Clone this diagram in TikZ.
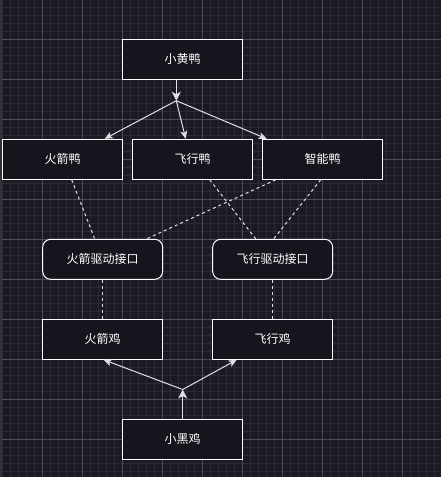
\documentclass[tikz,border=0pt]{standalone}
\usepackage{fontspec}
\setmainfont{Noto Sans CJK SC}
\usetikzlibrary{arrows.meta,calc,positioning}
\definecolor{BgCol}{RGB}{27,25,35}
\definecolor{BoxFill}{RGB}{24,20,29}
\definecolor{GridMinor}{RGB}{44,42,52}
\definecolor{GridMajor}{RGB}{78,77,86}
\definecolor{EdgeCol}{RGB}{225,225,228}
\tikzset{
  zgminor/.style={line width=1pt, draw=GridMinor},
  zgmajor/.style={line width=1pt, draw=GridMajor},
  zgbox/.style={draw=white, fill=BoxFill, line width=1pt, minimum width=120pt,
    minimum height=40pt, inner sep=0pt, text=white, font=\fontsize{12}{12}\selectfont},
  zgiface/.style={zgbox, rounded corners=8pt},
  zgarrow/.style={-{Stealth[length=8pt,width=7pt,inset=2pt]}, line width=1pt, draw=EdgeCol},
  zgjoin/.style={-{Stealth[length=9pt,width=9pt,inset=2.5pt]}, line width=1pt, draw=EdgeCol},
  zgreal/.style={line width=1pt, draw=EdgeCol, dash pattern=on 3pt off 3pt}
}

\begin{document}
\begin{tikzpicture}[x=1pt,y=-1pt]
  \useasboundingbox (0,0) rectangle (441,477);
  \fill[BgCol] (0,0) rectangle (441,477);
  % grid
  \foreach \gx in {2.7,10.7,...,441}{\draw[zgminor] (\gx,0) -- (\gx,477);}
  \foreach \gy in {7.3,15.3,...,477}{\draw[zgminor] (0,\gy) -- (441,\gy);}
  \foreach \gx in {42.7,82.7,...,441}{\draw[zgmajor] (\gx,0) -- (\gx,477);}
  \foreach \gy in {39.3,79.3,...,477}{\draw[zgmajor] (0,\gy) -- (441,\gy);}
  \fill[black!80] (0,0) rectangle (2.3,477);
  % classes
  \node[zgbox] (yellowduck) at (182.7,59.3) {小黄鸭};
  \node[zgbox] (rocketduck) at (62.7,159.3) {火箭鸭};
  \node[zgbox] (flyduck) at (192.7,159.3) {飞行鸭};
  \node[zgbox] (smartduck) at (322.7,159.3) {智能鸭};
  \node[zgiface] (rocketif) at (102.7,259.3) {火箭驱动接口};
  \node[zgiface] (flyif) at (272.7,259.3) {飞行驱动接口};
  \node[zgbox] (rocketchick) at (102.7,339.3) {火箭鸡};
  \node[zgbox] (flychick) at (272.7,339.3) {飞行鸡};
  \node[zgbox] (blackchick) at (182.7,439.3) {小黑鸡};
  \coordinate (jtop) at (176.3,100.7);
  \coordinate (jbot) at (182.7,389.5);
  % inheritance
  \draw[zgjoin] (jtop |- yellowduck.south) -- (jtop);
  \draw[zgarrow] (jtop) -- ($(rocketduck.north)+(42,0)$);
  \draw[zgarrow] (jtop) -- ($(flyduck.north)+(-7,0)$);
  \draw[zgarrow] (jtop) -- ($(smartduck.north)+(-56,0)$);
  \draw[zgjoin] (blackchick.north) -- (jbot);
  \draw[zgarrow] (jbot) -- ($(rocketchick.south)+(1,0)$);
  \draw[zgarrow] (jbot) -- ($(flychick.south)+(-36,0)$);
  % interfaces
  \draw[zgreal] ($(rocketduck.south)+(9,0)$) -- ($(rocketif.north)+(-8,0)$);
  \draw[zgreal] ($(smartduck.south)+(-47,0)$) -- ($(rocketif.north)+(44,0)$);
  \draw[zgreal] ($(flyduck.south)+(17,0)$) -- ($(flyif.north)+(-17,0)$);
  \draw[zgreal] ($(smartduck.south)+(-2,0)$) -- ($(flyif.north)+(1,0)$);
  \draw[zgreal] (rocketif.south) -- (rocketchick.north);
  \draw[zgreal] (flyif.south) -- (flychick.north);
\end{tikzpicture}
\end{document}
